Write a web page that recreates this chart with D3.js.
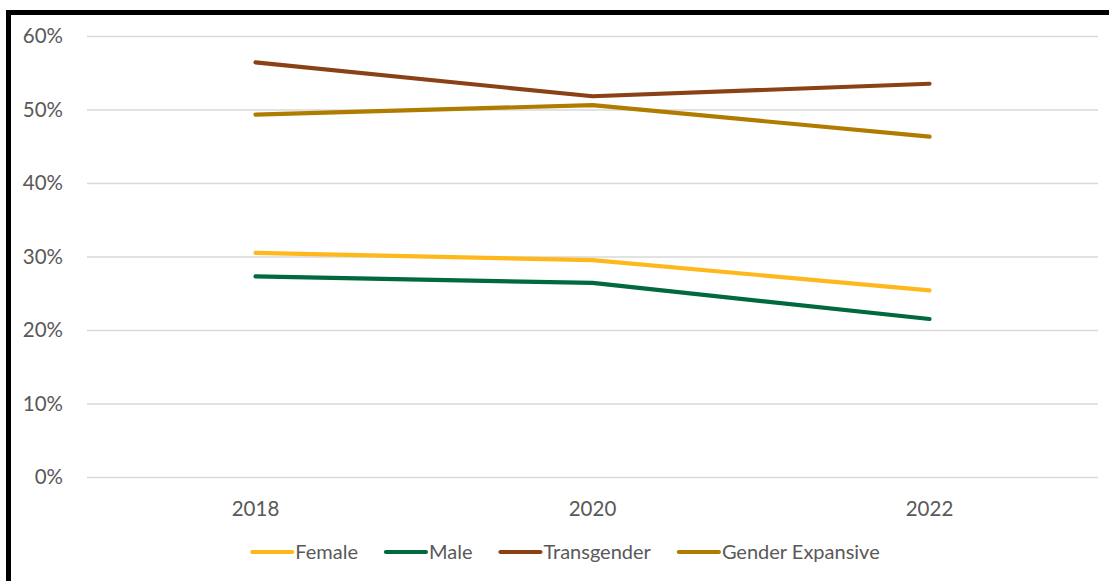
<!DOCTYPE html>
<html>
<head>
<meta charset="utf-8">
<script src="https://cdn.jsdelivr.net/npm/d3@7"></script>
<style>
  body { margin: 0; background: #fff; }
  svg text { font-family: Lato, "Noto Sans", sans-serif; fill: #595959; }
</style>
</head>
<body>
<svg id="chart" width="1109" height="581"></svg>
<script>
// values (share, 0-1)
const years = ['2018', '2020', '2022'];
const female = [0.305, 0.295, 0.254];
const male = [0.273, 0.264, 0.215];
const transgender = [0.564, 0.518, 0.535];
const genderExpansive = [0.493, 0.506, 0.463];
const seriesNames = ['Female', 'Male', 'Transgender', 'Gender Expansive'];
const seriesColors = ['#FFB81C', '#00693E', '#8A4115', '#AF7C00'];
const yTicks = [0, 0.1, 0.2, 0.3, 0.4, 0.5, 0.6];

const series = [female, male, transgender, genderExpansive].map((vals, i) => ({
  name: seriesNames[i],
  color: seriesColors[i],
  values: vals.map((v, j) => ({ year: years[j], value: v }))
}));

const svg = d3.select('#chart');
const plotLeft = 87, plotRight = 1098, plotTop = 36, plotBottom = 477;

// frame, the right and bottom edges run off the picture
svg.append('rect')
  .attr('x', 8.5).attr('y', 12.5)
  .attr('width', 1200).attr('height', 700)
  .attr('fill', 'none').attr('stroke', '#000').attr('stroke-width', 5);

const x = d3.scaleBand().domain(years).range([plotLeft, plotRight]).paddingInner(0);
const y = d3.scaleLinear().domain([0, 0.6]).range([plotBottom, plotTop]);

// grid + y labels
const yAxis = svg.append('g')
  .attr('transform', `translate(${plotLeft},0)`)
  .call(d3.axisLeft(y).tickValues(yTicks).tickSize(-(plotRight - plotLeft))
    .tickPadding(24).tickFormat(d3.format('.0%')));
yAxis.select('.domain').remove();
yAxis.selectAll('.tick line').attr('stroke', '#d9d9d9').attr('stroke-width', 1.3);
yAxis.selectAll('.tick text').attr('font-size', 20.5).attr('fill', '#595959');

// x labels
const xAxis = svg.append('g')
  .attr('transform', `translate(0,${plotBottom})`)
  .call(d3.axisBottom(x).tickSize(0).tickPadding(24));
xAxis.select('.domain').remove();
xAxis.selectAll('.tick text').attr('font-size', 20.5).attr('fill', '#595959');

const line = d3.line()
  .x(d => x(d.year) + x.bandwidth() / 2)
  .y(d => y(d.value));

svg.append('g').selectAll('path')
  .data(series)
  .join('path')
  .attr('d', d => line(d.values))
  .attr('fill', 'none')
  .attr('stroke', d => d.color)
  .attr('stroke-width', 4.2)
  .attr('stroke-linecap', 'round')
  .attr('stroke-linejoin', 'round');

// legend
const legend = svg.append('g').attr('transform', 'translate(0,552)');
const items = legend.selectAll('g').data(series).join('g');
items.append('line')
  .attr('x1', 0).attr('x2', 40).attr('y1', 0).attr('y2', 0)
  .attr('stroke', d => d.color).attr('stroke-width', 4.2)
  .attr('stroke-linecap', 'round');
items.append('text')
  .attr('x', 43).attr('dy', '0.35em')
  .attr('font-size', 20)
  .text(d => d.name);

let cursor = 0;
const offsets = [];
items.each(function () {
  offsets.push(cursor);
  cursor += 43 + this.querySelector('text').getComputedTextLength() + 28;
});
const totalW = cursor - 28;
const startX = 566 - totalW / 2;
items.attr('transform', (d, i) => `translate(${startX + offsets[i]},0)`);
</script>
</body>
</html>
